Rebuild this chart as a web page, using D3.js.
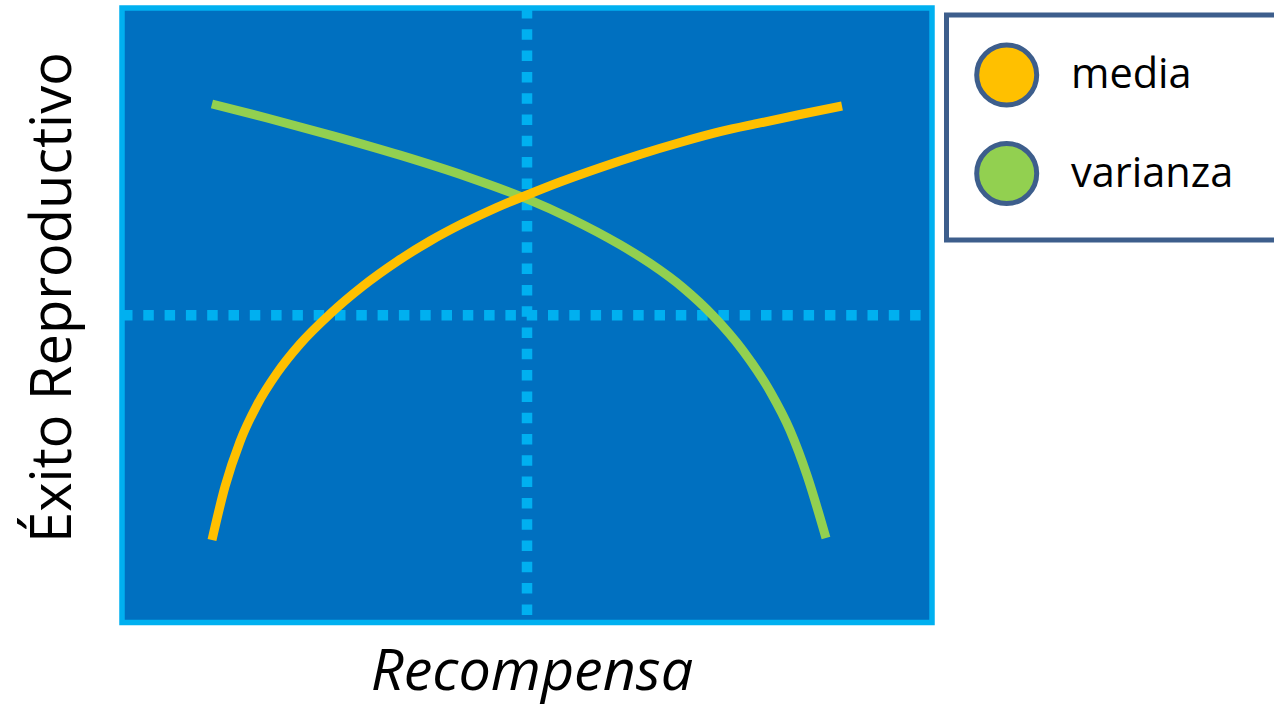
<!DOCTYPE html>
<html>
<head>
<meta charset="utf-8">
<script src="https://cdn.jsdelivr.net/npm/d3@7"></script>
<style>
  html, body { margin: 0; padding: 0; background: #ffffff; }
  svg { display: block; }
</style>
</head>
<body>
<script>
// ---- data ----
const seriesNames = ["media", "varianza"];
const seriesColors = ["#FFC000", "#92D050"];
const mediaX = [11.11, 12.72, 14.57, 16.67, 19.14, 21.98, 25.68, 29.75, 33.95, 38.02, 42.10, 46.30, 50.00, 54.07, 59.01, 63.95, 68.89, 73.83, 78.77, 83.70, 88.89];
const mediaY = [13.43, 22.13, 29.45, 35.39, 40.60, 45.32, 50.20, 54.76, 58.75, 62.08, 64.96, 67.57, 69.57, 71.68, 74.01, 76.16, 78.11, 79.87, 81.29, 82.67, 84.05];
const varianzaX = [11.11, 17.90, 26.05, 34.32, 42.59, 50.00, 55.31, 61.48, 65.19, 69.26, 72.96, 76.67, 80.00, 82.47, 84.57, 86.91];
const varianzaY = [84.38, 82.10, 79.20, 76.05, 72.55, 68.93, 65.79, 61.48, 58.45, 54.48, 49.94, 44.23, 37.64, 31.29, 23.95, 13.75];
const refX = 50;   // vertical dotted reference
const refY = 50;   // horizontal dotted reference
const xLabel = "Recompensa";
const yLabel = "Éxito Reproductivo";

// ---- layout ----
const W = 1274, H = 708;
const plot = { x0: 122, x1: 932, y0: 8, y1: 622.5 };

const svg = d3.select("body").append("svg").attr("width", W).attr("height", H);

const x = d3.scaleLinear().domain([0, 100]).range([plot.x0, plot.x1]);
const y = d3.scaleLinear().domain([0, 100]).range([plot.y1, plot.y0]);

// plot background
svg.append("rect")
  .attr("x", plot.x0).attr("y", plot.y0)
  .attr("width", plot.x1 - plot.x0).attr("height", plot.y1 - plot.y0)
  .attr("fill", "#0070C0");

// dotted reference lines
svg.append("line")
  .attr("x1", x(refX)).attr("x2", x(refX))
  .attr("y1", plot.y0).attr("y2", plot.y1)
  .attr("stroke", "#00B0F0").attr("stroke-width", 10.5)
  .attr("stroke-dasharray", "10.5 10.8");
svg.append("line")
  .attr("x1", plot.x0).attr("x2", plot.x1)
  .attr("y1", y(refY)).attr("y2", y(refY))
  .attr("stroke", "#00B0F0").attr("stroke-width", 10.5)
  .attr("stroke-dasharray", "10.5 10.8");

// curves
const series = [
  { name: seriesNames[1], color: seriesColors[1], pts: varianzaX.map((v, i) => [v, varianzaY[i]]) },
  { name: seriesNames[0], color: seriesColors[0], pts: mediaX.map((v, i) => [v, mediaY[i]]) }
];
const line = d3.line().x(d => x(d[0])).y(d => y(d[1])).curve(d3.curveMonotoneX);
svg.selectAll("path.curve").data(series).enter().append("path")
  .attr("class", "curve")
  .attr("d", d => line(d.pts))
  .attr("fill", "none")
  .attr("stroke", d => d.color)
  .attr("stroke-width", 9)
  .attr("stroke-linecap", "butt");

// plot border
svg.append("rect")
  .attr("x", plot.x0).attr("y", plot.y0)
  .attr("width", plot.x1 - plot.x0).attr("height", plot.y1 - plot.y0)
  .attr("fill", "none").attr("stroke", "#00B0F0").attr("stroke-width", 5.5);

// axis labels
svg.append("text")
  .attr("x", 532).attr("y", 690)
  .attr("text-anchor", "middle")
  .attr("font-family", "'Open Sans', sans-serif")
  .attr("font-style", "italic")
  .attr("font-size", 57.5)
  .attr("fill", "#000")
  .text(xLabel);

svg.append("text")
  .attr("transform", "translate(71,297.5) rotate(-90)")
  .attr("text-anchor", "middle")
  .attr("font-family", "'Open Sans', sans-serif")
  .attr("font-size", 56)
  .attr("fill", "#000")
  .text(yLabel);

// legend
const lg = svg.append("g");
lg.append("rect")
  .attr("x", 946.5).attr("y", 15)
  .attr("width", 400).attr("height", 225)
  .attr("fill", "#fff").attr("stroke", "#3D5E8C").attr("stroke-width", 5);
const legendItems = seriesNames.map((n, i) => ({ name: n, color: seriesColors[i] }));
const li = lg.selectAll("g.item").data(legendItems).enter().append("g")
  .attr("class", "item")
  .attr("transform", (d, i) => `translate(0, ${75 + i * 98.5})`);
li.append("circle")
  .attr("cx", 1006.7).attr("cy", 0).attr("r", 30)
  .attr("fill", d => d.color)
  .attr("stroke", "#3D5E8C").attr("stroke-width", 5);
li.append("text")
  .attr("x", 1071).attr("y", 13)
  .attr("font-family", "'Open Sans', sans-serif")
  .attr("font-size", 41.5)
  .attr("fill", "#000")
  .text(d => d.name);
</script>
</body>
</html>
